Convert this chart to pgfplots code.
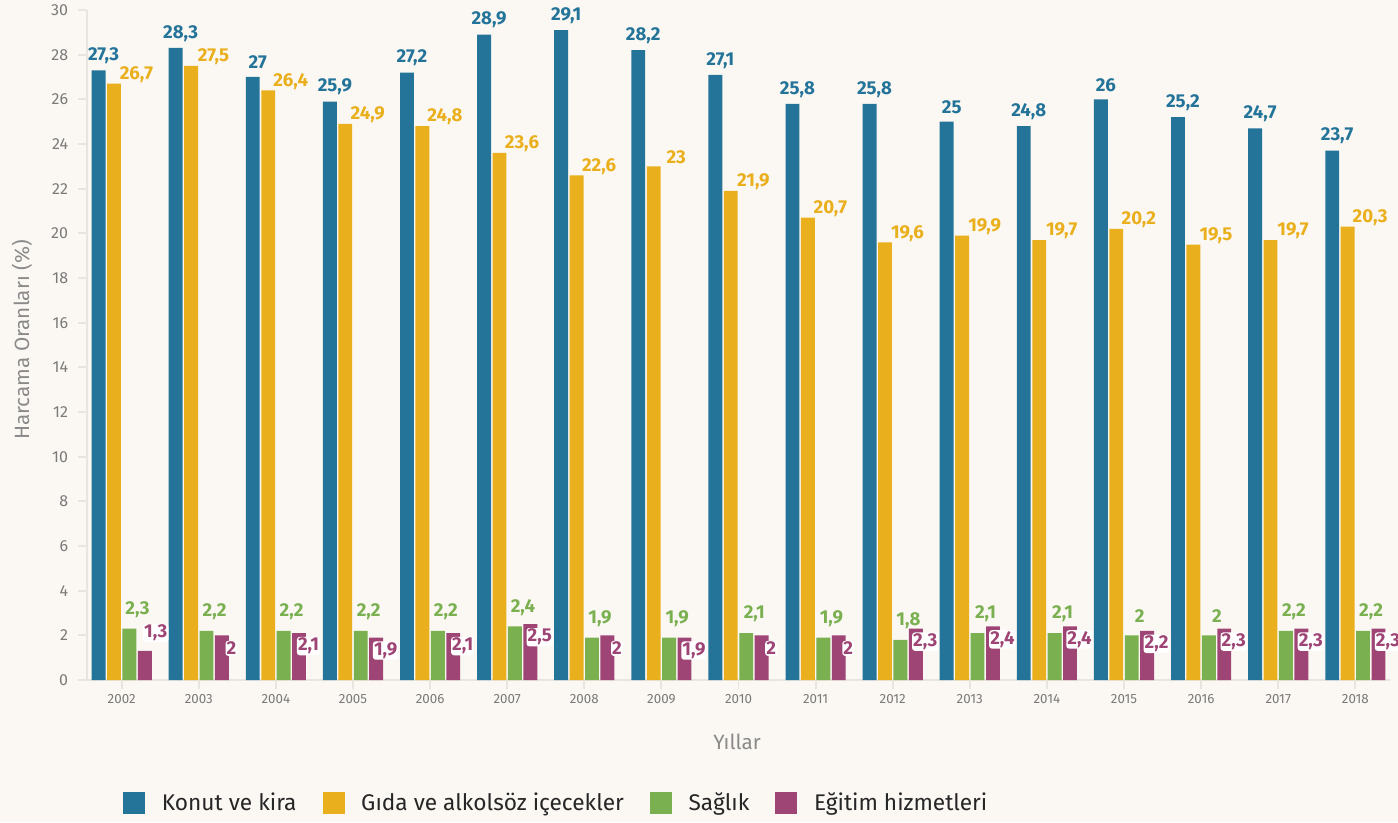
\documentclass[border=0pt]{standalone}
\usepackage{pgfplots}
\pgfplotsset{compat=1.18}
\usepackage{pgfplotstable}
\usepackage{fontspec}
\setmainfont{Fira Sans}
\definecolor{cblue}{HTML}{24749A}
\definecolor{cyellow}{HTML}{EAAF1C}
\definecolor{cgreen}{HTML}{7AB050}
\definecolor{cpurple}{HTML}{9E4575}
\definecolor{bgc}{HTML}{FBF8F3}
\definecolor{axc}{HTML}{E8E5E0}
\definecolor{tickc}{HTML}{7A7A7A}
\definecolor{labc}{HTML}{8A8A8A}

\pgfplotstableread{
x y
0 27.3
1 28.3
2 27
3 25.9
4 27.2
5 28.9
6 29.1
7 28.2
8 27.1
9 25.8
10 25.8
11 25
12 24.8
13 26
14 25.2
15 24.7
16 23.7
}\konut
\pgfplotstableread{
x y
0 26.7
1 27.5
2 26.4
3 24.9
4 24.8
5 23.6
6 22.6
7 23
8 21.9
9 20.7
10 19.6
11 19.9
12 19.7
13 20.2
14 19.5
15 19.7
16 20.3
}\gida
\pgfplotstableread{
x y
0 2.3
1 2.2
2 2.2
3 2.2
4 2.2
5 2.4
6 1.9
7 1.9
8 2.1
9 1.9
10 1.8
11 2.1
12 2.1
13 2
14 2
15 2.2
16 2.2
}\saglik
\pgfplotstableread{
x y dx dy
0 1.3 25.5 13.5
1 2 24.45 -9.75
2 2.1 24.45 -9.75
3 1.9 24.45 -9.75
4 2.1 24.45 -9.75
5 2.5 24.45 -9.75
6 2 24.45 -9.75
7 1.9 24.45 -9.75
8 2 24.45 -9.75
9 2 24.45 -9.75
10 2.3 24.45 -9.75
11 2.4 24.45 -9.75
12 2.4 24.45 -9.75
13 2.2 24.45 -9.75
14 2.3 24.45 -9.75
15 2.3 24.45 -9.75
16 2.3 24.45 -9.75
}\egitim

\begin{document}
\begin{tikzpicture}
\fill[bgc] (0,0) rectangle (1048.5pt,616.5pt);
\begin{axis}[
  at={(65.25pt,106.5pt)}, anchor=south west,
  scale only axis, width=977.25pt, height=502.5pt,
  clip=false,
  xmin=-0.45, xmax=16.45, ymin=0, ymax=30,
  axis lines=left,
  axis line style={draw=axc, line width=2.2pt, -},
  xtick={0,...,16},
  xticklabels={2002,2003,2004,2005,2006,2007,2008,2009,2010,2011,2012,2013,2014,2015,2016,2017,2018},
  ytick={0,2,...,30},
  tick align=outside,
  major tick length=6.5pt,
  tick style={draw=axc, line width=1.4pt},
  /pgf/number format/assume math mode=true,
  /pgf/number format/use comma,
  /pgf/number format/fixed,
  /pgf/number format/precision=1,
  /pgf/number format/1000 sep={},
  xticklabel style={font=\fontsize{10}{12}\selectfont, text=tickc, inner sep=0pt, yshift=-4.5pt, anchor=north},
  yticklabel style={font=\fontsize{12}{14}\selectfont, text=tickc, inner sep=0pt, xshift=-7.5pt, anchor=east},
  xlabel={Yıllar},
  ylabel={Harcama Oranları (\%)},
  xlabel style={font=\fontsize{15.5}{17}\selectfont, text=labc, at={(axis description cs:0.4989,-0.0925)}, anchor=center},
  ylabel style={font=\fontsize{15.5}{17}\selectfont, text=labc, at={(axis description cs:-0.0499,0.5075)}, anchor=center},
  legend columns=-1,
  legend style={draw=none, fill=none, at={(axis description cs:0.0276,-0.1836)}, anchor=west,
    inner sep=0pt, column sep=0pt,
    nodes={inner sep=0pt, font=\fontsize{17}{19}\selectfont, text=black!85},
    /tikz/every even column/.append style={column sep=19.5pt}},
  legend image code/.code={\fill[#1,draw=none] (0pt,-8pt) rectangle (16.5pt,8pt); \path (29pt,0pt);},
]
\addplot[ybar, bar shift=-0.3, bar width=0.18, fill=cblue, draw=none,
  nodes near coords,
  every node near coord/.append style={anchor=center, xshift=-13.6pt, yshift=10.9pt,
    font=\bfseries\fontsize{14}{16}\selectfont, text=cblue}]
  table[x=x,y=y]{\konut};
\addlegendentry{Konut ve kira}
\addplot[ybar, bar shift=-0.1, bar width=0.18, fill=cyellow, draw=none,
  nodes near coords,
  every node near coord/.append style={anchor=center, xshift=11.1pt, yshift=6.75pt,
    font=\bfseries\fontsize{14}{16}\selectfont, text=cyellow}]
  table[x=x,y=y]{\gida};
\addlegendentry{Gıda ve alkolsöz içecekler}
\addplot[ybar, bar shift=0.1, bar width=0.18, fill=cgreen, draw=none,
  nodes near coords,
  every node near coord/.append style={anchor=center, xshift=11.8pt, yshift=14.25pt,
    font=\bfseries\fontsize{14}{16}\selectfont, text=cgreen}]
  table[x=x,y=y]{\saglik};
\addlegendentry{Sağlık}
\addplot[ybar, bar shift=0.3, bar width=0.18, fill=cpurple, draw=none,
  visualization depends on={\thisrow{dx} \as \dxv},
  visualization depends on={\thisrow{dy} \as \dyv},
  nodes near coords,
  every node near coord/.append style={anchor=center, xshift=\dxv pt, yshift=\dyv pt,
    font=\bfseries\fontsize{14}{16}\selectfont, text=cpurple, fill=white, inner sep=0.8pt, rounded corners=2pt}]
  table[x=x,y=y]{\egitim};
\addlegendentry{Eğitim hizmetleri}
\end{axis}
\pgfresetboundingbox
\path[use as bounding box] (0,0) rectangle (1048.5pt,616.5pt);
\end{tikzpicture}
\end{document}
